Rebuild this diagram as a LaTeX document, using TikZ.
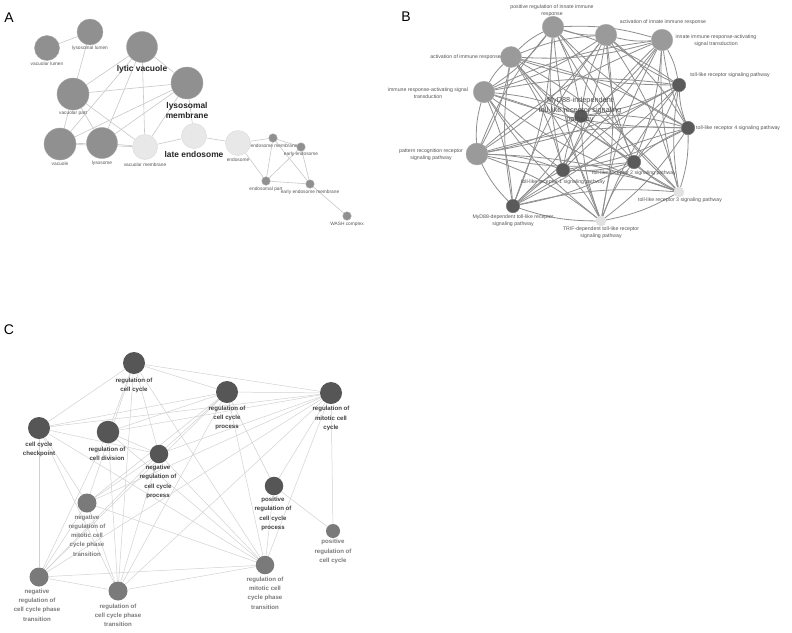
\documentclass[tikz,border=0pt]{standalone}
\usepackage{fontspec}
\setmainfont{Liberation Sans}
\usetikzlibrary{backgrounds}
\definecolor{agray}{HTML}{909090}
\definecolor{alight}{HTML}{E8E8E8}
\definecolor{aedge}{HTML}{C8C8C8}
\definecolor{bbig}{HTML}{9A9A9A}
\definecolor{bdark}{HTML}{5A5A5A}
\definecolor{blight}{HTML}{E2E2E2}
\definecolor{bedgec}{HTML}{8E8E8E}
\definecolor{cdark}{HTML}{565656}
\definecolor{cmid}{HTML}{7A7A7A}
\definecolor{cedge}{HTML}{D2D2D2}
\definecolor{labgray}{HTML}{555555}
\begin{document}
\begin{tikzpicture}[x=1pt,y=-1pt,
  adot/.style={circle,inner sep=0pt,minimum size=#1,fill=agray,draw=agray!80!white,line width=0.4pt},
  alt/.style={circle,inner sep=0pt,minimum size=#1,fill=alight,draw=black!15,line width=0.4pt},
  alab/.style={font=\fontsize{4.8}{5.8}\selectfont,text=labgray,inner sep=0pt},
  ablab/.style={font=\bfseries\fontsize{8.4}{10}\selectfont,text=black!85,inner sep=0pt,align=center},
  aed/.style={draw=aedge,line width=0.6pt},
  bbigdot/.style={circle,inner sep=0pt,minimum size=#1,fill=bbig,draw=bbig!85!white,line width=0.4pt},
  bdarkdot/.style={circle,inner sep=0pt,minimum size=#1,fill=bdark,draw=bdark!85!white,line width=0.4pt},
  blightdot/.style={circle,inner sep=0pt,minimum size=#1,fill=blight,draw=black!12,line width=0.4pt},
  blab/.style={font=\fontsize{5.2}{7.2}\selectfont,text=labgray,inner sep=0pt,align=center},
  bbiglab/.style={font=\fontsize{7.3}{9.5}\selectfont,text=black!70,inner sep=0pt,align=center},
  bed/.style={draw=bedgec,line width=0.8pt},
  cdarkdot/.style={circle,inner sep=0pt,minimum size=#1,fill=cdark},
  cmiddot/.style={circle,inner sep=0pt,minimum size=#1,fill=cmid},
  cdlab/.style={font=\bfseries\fontsize{6.1}{9.3}\selectfont,text=black!75,inner sep=0pt,align=center},
  cmlab/.style={font=\bfseries\fontsize{6.1}{9.3}\selectfont,text=black!52,inner sep=0pt,align=center},
  ced/.style={draw=cedge,line width=0.5pt},
  panel/.style={font=\fontsize{14}{16}\selectfont,inner sep=0pt}
]
\useasboundingbox (0,0) rectangle (792,632);
\begin{scope}[on background layer]
\fill[white] (0,0) rectangle (792,632);
\end{scope}

% ---------------- Panel A ----------------
\node[panel] (pA) at (9,18) {A};
\node[adot=25] (vlum) at (47,48) {};
\node[adot=26] (llum) at (90,32) {};
\node[adot=31] (lyv) at (142,47) {};
\node[adot=32] (lysm) at (187,83) {};
\node[adot=32] (vpart) at (73,94) {};
\node[adot=32] (vac) at (60,144) {};
\node[adot=31] (lyso) at (102,143) {};
\node[alt=25] (vmem) at (145,147) {};
\node[alt=25] (lend) at (194,136) {};
\node[alt=25] (endo) at (238,143) {};
\node[adot=8.5] (emem) at (273,138) {};
\node[adot=8.5] (eendo) at (301,147) {};
\node[adot=8.5] (epart) at (266,181) {};
\node[adot=8.5] (eemem) at (310,184) {};
\node[adot=8.5] (wash) at (347,216) {};

\node[alab] (tvlum) at (47,64) {vacuolar lumen};
\node[alab] (tllum) at (90,48) {lysosomal lumen};
\node[ablab] (tlyv) at (142,69) {lytic vacuole};
\node[ablab] (tlysm) at (187,110) {lysosomal\\membrane};
\node[alab] (tvpart) at (73,113) {vacuolar part};
\node[alab] (tvac) at (60,163.5) {vacuole};
\node[alab] (tlyso) at (102,163) {lysosome};
\node[alab] (tvmem) at (145,165) {vacuolar membrane};
\node[ablab] (tlend) at (194,154) {late endosome};
\node[alab] (tendo) at (238,160) {endosome};
\node[alab] (temem) at (274,146) {endosome membrane};
\node[alab] (teendo) at (301,154.5) {early endosome};
\node[alab] (tepart) at (266,189) {endosomal part};
\node[alab] (teemem) at (310,192) {early endosome membrane};
\node[alab] (twash) at (347,224) {WASH complex};

\begin{scope}[on background layer]
\foreach \a/\b in {vlum/llum, llum/vpart, lyv/vpart, lyv/vac, lyv/lyso, lyv/vmem, lyv/lysm,
  vpart/lysm, vpart/vac, vpart/lyso, vpart/vmem, lysm/vac, lysm/lyso, lysm/vmem, lysm/lend,
  vac/lyso, vac/vmem, lyso/vmem, vmem/lend, lend/endo, endo/emem, endo/epart,
  emem/eendo, emem/epart, emem/eemem, eendo/epart, eendo/eemem, epart/eemem, eemem/wash}
  \draw[aed] (\a) -- (\b);
\end{scope}

% ---------------- Panel B ----------------
\node[panel] (pB) at (406,17) {B};
\node[bbigdot=21.5] (b1) at (553,27) {};
\node[bbigdot=21] (b2) at (511,57) {};
\node[bbigdot=21.5] (b3) at (484,92) {};
\node[bbigdot=21.5] (b4) at (606,35) {};
\node[bbigdot=21.5] (b5) at (662,40) {};
\node[bbigdot=22] (b6) at (477,154) {};
\node[bdarkdot=13.5] (b7) at (679,85) {};
\node[bdarkdot=13.5] (b8) at (688,128) {};
\node[bdarkdot=13] (b9) at (581,116) {};
\node[bdarkdot=13.5] (b10) at (563,170) {};
\node[bdarkdot=13.5] (b11) at (634,162) {};
\node[blightdot=10] (b12) at (679,192) {};
\node[bdarkdot=13.5] (b13) at (513,206) {};
\node[blightdot=10] (b14) at (601,221) {};

\begin{scope}[on background layer]
\foreach \i in {1,...,13}{
  \pgfmathtruncatemacro\s{\i+1}
  \foreach \j in {\s,...,14}{
    \pgfmathtruncatemacro\bd{mod(\i+\j,2)==0 ? 9 : -9}
    \draw[bed] (b\i) to[bend left=\bd] (b\j);
  }
}
\end{scope}

\node[blab] (tb1) at (552,10.5) {positive regulation of innate immune\\response};
\node[blab,anchor=east] (tb2) at (501,57) {activation of immune response};
\node[blab] (tb3) at (428,93.5) {immune response-activating signal\\transduction};
\node[blab] (tb4) at (663,22) {activation of innate immune response};
\node[blab] (tb5) at (716,40.5) {innate immune response-activating\\signal transduction};
\node[blab] (tb6) at (431,154.5) {pattern recognition receptor\\signaling pathway};
\node[blab] (tb7) at (730,75) {toll-like receptor signaling pathway};
\node[blab,anchor=west] (tb8) at (696,128) {toll-like receptor 4 signaling pathway};
\node[bbiglab] (tb9) at (580,110.5) {MyD88-independent\\toll-like receptor signaling\\pathway};
\node[blab] (tb10) at (563,182) {toll-like receptor 1 signaling pathway};
\node[blab] (tb11) at (634,173) {toll-like receptor 2 signaling pathway};
\node[blab] (tb12) at (680,200) {toll-like receptor 3 signaling pathway};
\node[blab] (tb13) at (513,220.5) {MyD88-dependent toll-like receptor\\signaling pathway};
\node[blab] (tb14) at (601,233) {TRIF-dependent toll-like receptor\\signaling pathway};

% ---------------- Panel C ----------------
\node[panel] (pC) at (9,330) {C};
\node[cdarkdot=22] (c1) at (134,363) {};
\node[cdarkdot=22] (c2) at (227,392) {};
\node[cdarkdot=22] (c3) at (331,393) {};
\node[cdarkdot=22] (c4) at (39,428) {};
\node[cdarkdot=22.5] (c5) at (108,432) {};
\node[cdarkdot=18.5] (c6) at (159,454) {};
\node[cdarkdot=18.5] (c7) at (274,486) {};
\node[cmiddot=14] (c8) at (333,531) {};
\node[cmiddot=18.5] (c9) at (265,565) {};
\node[cmiddot=19] (c10) at (87,503) {};
\node[cmiddot=19] (c11) at (39,577) {};
\node[cmiddot=19] (c12) at (118,591) {};

\begin{scope}[on background layer]
\foreach \a/\b in {c1/c2, c1/c3, c1/c4, c1/c5, c1/c6, c1/c9, c1/c10, c1/c12,
  c2/c3, c2/c4, c2/c5, c2/c6, c2/c7, c2/c9, c2/c10, c2/c11, c2/c12,
  c3/c4, c3/c5, c3/c6, c3/c7, c3/c8, c3/c9, c3/c10, c3/c11, c3/c12,
  c4/c6, c4/c9, c4/c10, c4/c11, c4/c12,
  c5/c6, c5/c9, c5/c11, c5/c12,
  c6/c9, c6/c10, c6/c11, c6/c12,
  c7/c8, c7/c9, c9/c10, c9/c11, c9/c12, c10/c11, c10/c12, c11/c12}
  \draw[ced] (\a) -- (\b);
\end{scope}

\node[cdlab] (tc1) at (134,385.5) {regulation of\\cell cycle};
\node[cdlab] (tc2) at (227,418) {regulation of\\cell cycle\\process};
\node[cdlab] (tc3) at (331,418.5) {regulation of\\mitotic cell\\cycle};
\node[cdlab] (tc4) at (39,449.5) {cell cycle\\checkpoint};
\node[cdlab] (tc5) at (107,453.5) {regulation of\\cell division};
\node[cdlab] (tc6) at (158,482) {negative\\regulation of\\cell cycle\\process};
\node[cdlab] (tc7) at (273,514) {positive\\regulation of\\cell cycle\\process};
\node[cmlab] (tc8) at (333,551.5) {positive\\regulation of\\cell cycle};
\node[cmlab] (tc9) at (265,593) {regulation of\\mitotic cell\\cycle phase\\transition};
\node[cmlab] (tc10) at (87,535.5) {negative\\regulation of\\mitotic cell\\cycle phase\\transition};
\node[cmlab] (tc11) at (37,605) {negative\\regulation of\\cell cycle phase\\transition};
\node[cmlab] (tc12) at (118,615.5) {regulation of\\cell cycle phase\\transition};
\end{tikzpicture}
\end{document}
